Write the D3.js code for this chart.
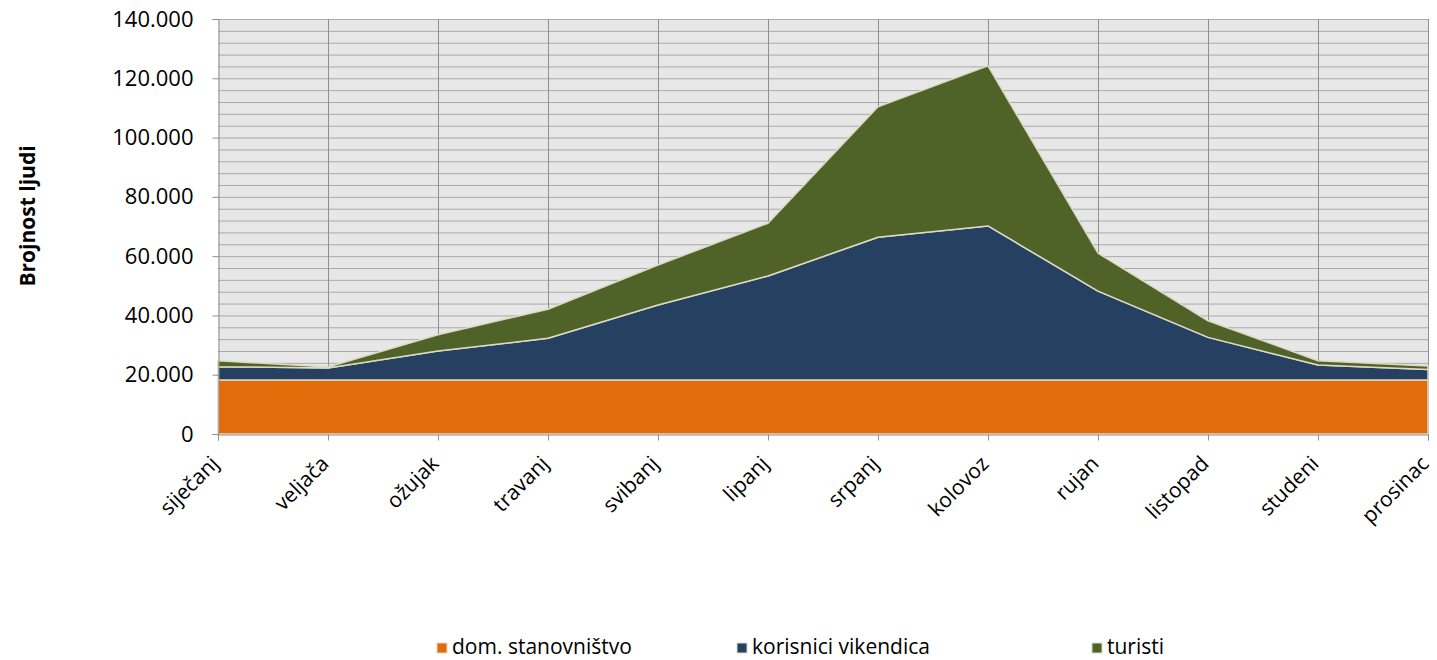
<!DOCTYPE html>
<html>
<head>
<meta charset="utf-8">
<script src="https://cdn.jsdelivr.net/npm/d3@7"></script>
<style>
  body { margin: 0; background: #ffffff; }
  text { font-family: 'Open Sans', sans-serif; fill: #000; }
</style>
</head>
<body>
<div id="chart"></div>
<script>
const months = ['siječanj', 'veljača', 'ožujak', 'travanj', 'svibanj', 'lipanj', 'srpanj', 'kolovoz', 'rujan', 'listopad', 'studeni', 'prosinac']
const seriesNames = ['dom. stanovništvo', 'korisnici vikendica', 'turisti']
const domStanovnistvo = [18200, 18200, 18200, 18200, 18200, 18200, 18200, 18200, 18200, 18200, 18200, 18200]
const korisniciVikendica = [4500, 4100, 9800, 14100, 25300, 35100, 48200, 52000, 30000, 14400, 5100, 3600]
const turisti = [2000, 300, 5500, 9800, 13500, 17800, 44000, 54000, 12800, 5600, 1400, 1100]
const yTicks = [0, 20000, 40000, 60000, 80000, 100000, 120000, 140000]

const colors = ['#e36c0a', '#254061', '#4f6228']
const W = 1437
const H = 660
const plotLeft = 218
const plotRight = 1428
const plotTop = 19
const plotBottom = 434

const svg = d3.select('#chart').append('svg').attr('width', W).attr('height', H)

const x = d3.scalePoint().domain(months).range([plotLeft, plotRight])
const y = d3.scaleLinear().domain([0, 140000]).range([plotBottom, plotTop])

// plot background
svg
  .append('rect')
  .attr('x', plotLeft)
  .attr('y', plotTop)
  .attr('width', plotRight - plotLeft)
  .attr('height', plotBottom - plotTop)
  .attr('fill', '#e7e7e7')

// horizontal grid every 4000
const grid = svg.append('g')
grid
  .selectAll('line.h')
  .data(d3.range(4000, 140001, 4000))
  .join('line')
  .attr('class', 'h')
  .attr('x1', plotLeft)
  .attr('x2', plotRight)
  .attr('y1', (d) => y(d) + 0.5)
  .attr('y2', (d) => y(d) + 0.5)
  .attr('stroke', '#a9a9a9')
  .attr('stroke-width', 1)

grid
  .selectAll('line.v')
  .data(months.slice(1))
  .join('line')
  .attr('class', 'v')
  .attr('x1', (d) => x(d) + 0.5)
  .attr('x2', (d) => x(d) + 0.5)
  .attr('y1', plotTop)
  .attr('y2', plotBottom)
  .attr('stroke', '#8f8f8f')
  .attr('stroke-width', 1)

// stacked areas
const rows = months.map((m, i) => ({
  month: m,
  dom: domStanovnistvo[i],
  vik: korisniciVikendica[i],
  tur: turisti[i],
}))
const layers = d3.stack().keys(['dom', 'vik', 'tur'])(rows)

const area = d3
  .area()
  .x((d) => x(d.data.month))
  .y0((d) => y(d[0]))
  .y1((d) => y(d[1]))

svg
  .append('g')
  .selectAll('path')
  .data(layers)
  .join('path')
  .attr('d', area)
  .attr('fill', (d, i) => colors[i])
  .attr('stroke', '#ddd9c3')
  .attr('stroke-width', 1.5)
  .attr('stroke-linejoin', 'round')

// y axis
const yAxis = svg
  .append('g')
  .attr('transform', `translate(${plotLeft + 0.5},0)`)
  .call(
    d3
      .axisLeft(y)
      .tickValues(yTicks)
      .tickSize(6)
      .tickPadding(19)
      .tickFormat((d) => d3.format(',')(d).replace(/,/g, '.'))
  )
yAxis.select('.domain').attr('stroke', '#8f8f8f')
yAxis.selectAll('.tick line').attr('stroke', '#8f8f8f')
yAxis
  .selectAll('.tick text')
  .attr('font-size', 22)
  .attr('font-family', "'Open Sans', sans-serif")
  .attr('fill', '#000')

// x axis
const xAxis = svg
  .append('g')
  .attr('transform', `translate(0,${plotBottom + 0.5})`)
  .call(d3.axisBottom(x).tickSize(6).tickFormat(''))
xAxis.select('.domain').attr('stroke', '#8f8f8f')
xAxis.selectAll('.tick line').attr('stroke', '#8f8f8f')

svg
  .append('g')
  .selectAll('text')
  .data(months)
  .join('text')
  .attr('transform', (d) => `translate(${x(d) + 2},${plotBottom + 31}) rotate(-45)`)
  .attr('text-anchor', 'end')
  .attr('font-size', 21)
  .text((d) => d)

// y title
svg
  .append('text')
  .attr('transform', 'translate(35,216) rotate(-90)')
  .attr('text-anchor', 'middle')
  .attr('font-size', 21)
  .attr('font-weight', 'bold')
  .text('Brojnost ljudi')

// legend
const legendX = [437, 737, 1092]
const legend = svg
  .append('g')
  .selectAll('g')
  .data(seriesNames)
  .join('g')
  .attr('transform', (d, i) => `translate(${legendX[i]},643)`)
legend
  .append('rect')
  .attr('width', 10)
  .attr('height', 10)
  .attr('fill', (d, i) => colors[i])
  .attr('stroke', '#ddd9c3')
  .attr('stroke-width', 1)
legend
  .append('text')
  .attr('x', 15)
  .attr('y', 11)
  .attr('font-size', 21)
  .text((d) => d)
</script>
</body>
</html>
